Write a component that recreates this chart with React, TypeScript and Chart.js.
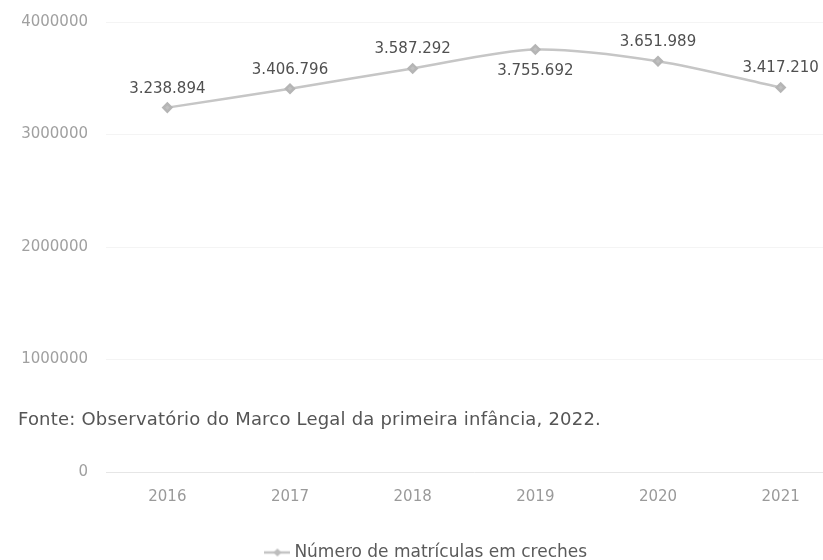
import React, { useEffect, useRef } from "react";
import { Chart, registerables } from "chart.js";

Chart.register(...registerables);

const YEARS = ["2016", "2017", "2018", "2019", "2020", "2021"];
const MATRICULAS = [3238894, 3406796, 3587292, 3755692, 3651989, 3417210];
const SERIES_LABEL = "Número de matrículas em creches";
const SOURCE_TEXT = "Fonte: Observatório do Marco Legal da primeira infância, 2022.";
const Y_MAX = 4000000;
const Y_STEP = 1000000;
const LABEL_BELOW = [false, false, false, true, false, false];

const FONT = '"DejaVu Sans", "Liberation Sans", sans-serif';

function fmt(v: number): string {
  return String(v).replace(/\B(?=(\d{3})+(?!\d))/g, ".");
}

function makeLegendIcon(): HTMLCanvasElement {
  const c = document.createElement("canvas");
  c.width = 26;
  c.height = 12;
  const g = c.getContext("2d")!;
  g.strokeStyle = "#c4c4c4";
  g.lineWidth = 2.5;
  g.beginPath();
  g.moveTo(0, 6);
  g.lineTo(26, 6);
  g.stroke();
  g.fillStyle = "#bdbdbd";
  g.beginPath();
  g.moveTo(13, 2);
  g.lineTo(17, 6);
  g.lineTo(13, 10);
  g.lineTo(9, 6);
  g.closePath();
  g.fill();
  return c;
}

const valueLabels = {
  id: "valueLabels",
  afterDatasetsDraw(chart: any) {
    const ctx = chart.ctx;
    const meta = chart.getDatasetMeta(0);
    ctx.save();
    ctx.font = `15px ${FONT}`;
    ctx.fillStyle = "#505050";
    ctx.textAlign = "center";
    ctx.textBaseline = "middle";
    meta.data.forEach((pt: any, i: number) => {
      const dy = LABEL_BELOW[i] ? 22 : -19;
      ctx.fillText(fmt(MATRICULAS[i]), pt.x, pt.y + dy);
    });
    ctx.restore();
  },
};

export default function App() {
  const ref = useRef<HTMLCanvasElement>(null);

  useEffect(() => {
    if (!ref.current) return;
    const icon = makeLegendIcon();
    const chart = new Chart(ref.current, {
      type: "line",
      data: {
        labels: YEARS,
        datasets: [
          {
            label: SERIES_LABEL,
            data: MATRICULAS,
            borderColor: "#c6c6c6",
            borderWidth: 2.5,
            tension: 0.3,
            pointStyle: "rectRot",
            pointRadius: 4,
            pointBackgroundColor: "#c0c0c0",
            pointBorderColor: "#b5b5b5",
            fill: false,
          },
        ],
      },
      options: {
        animation: false,
        responsive: false,
        maintainAspectRatio: false,
        layout: { padding: { top: 16, right: 18, left: 14, bottom: 0 } },
        scales: {
          x: {
            offset: true,
            grid: { display: false, drawTicks: false },
            border: { display: true, color: "#e6e6e6", width: 1 },
            ticks: {
              padding: 16,
              color: "#9a9a9a",
              font: { family: FONT, size: 15 },
            },
            afterFit: (s: any) => {
              s.height = 62;
            },
          },
          y: {
            min: 0,
            max: Y_MAX,
            grid: { color: "#f4f4f4", drawTicks: false },
            border: { display: false },
            ticks: {
              stepSize: Y_STEP,
              padding: 18,
              color: "#a0a0a0",
              font: { family: FONT, size: 15 },
              callback: (v: any) => String(v),
            },
            afterFit: (s: any) => {
              s.width = 92;
            },
          },
        },
        plugins: {
          legend: {
            position: "bottom",
            labels: {
              color: "#5a5a5a",
              font: { family: FONT, size: 17 },
              usePointStyle: true,
              padding: 10,
              generateLabels: (ch: any) =>
                ch.data.datasets.map((d: any, i: number) => ({
                  text: d.label,
                  pointStyle: icon,
                  fillStyle: "#c0c0c0",
                  strokeStyle: "#c0c0c0",
                  lineWidth: 0,
                  fontColor: "#5a5a5a",
                  datasetIndex: i,
                  hidden: false,
                })),
            },
          },
          tooltip: { enabled: false },
          title: { display: false },
        },
      },
      plugins: [valueLabels],
    });
    return () => chart.destroy();
  }, []);

  return (
    <div
      style={{
        position: "fixed",
        left: 0,
        top: 0,
        width: 823,
        height: 560,
        overflow: "hidden",
        background: "#ffffff",
      }}
    >
      <canvas
        ref={ref}
        width={860}
        height={576}
        style={{ display: "block", marginTop: -5 }}
      />
      <div
        style={{
          position: "absolute",
          left: 18,
          top: 408,
          fontFamily: FONT,
          fontSize: 18,
          letterSpacing: 0.2,
          color: "#555555",
          whiteSpace: "nowrap",
        }}
      >
        {SOURCE_TEXT}
      </div>
    </div>
  );
}
